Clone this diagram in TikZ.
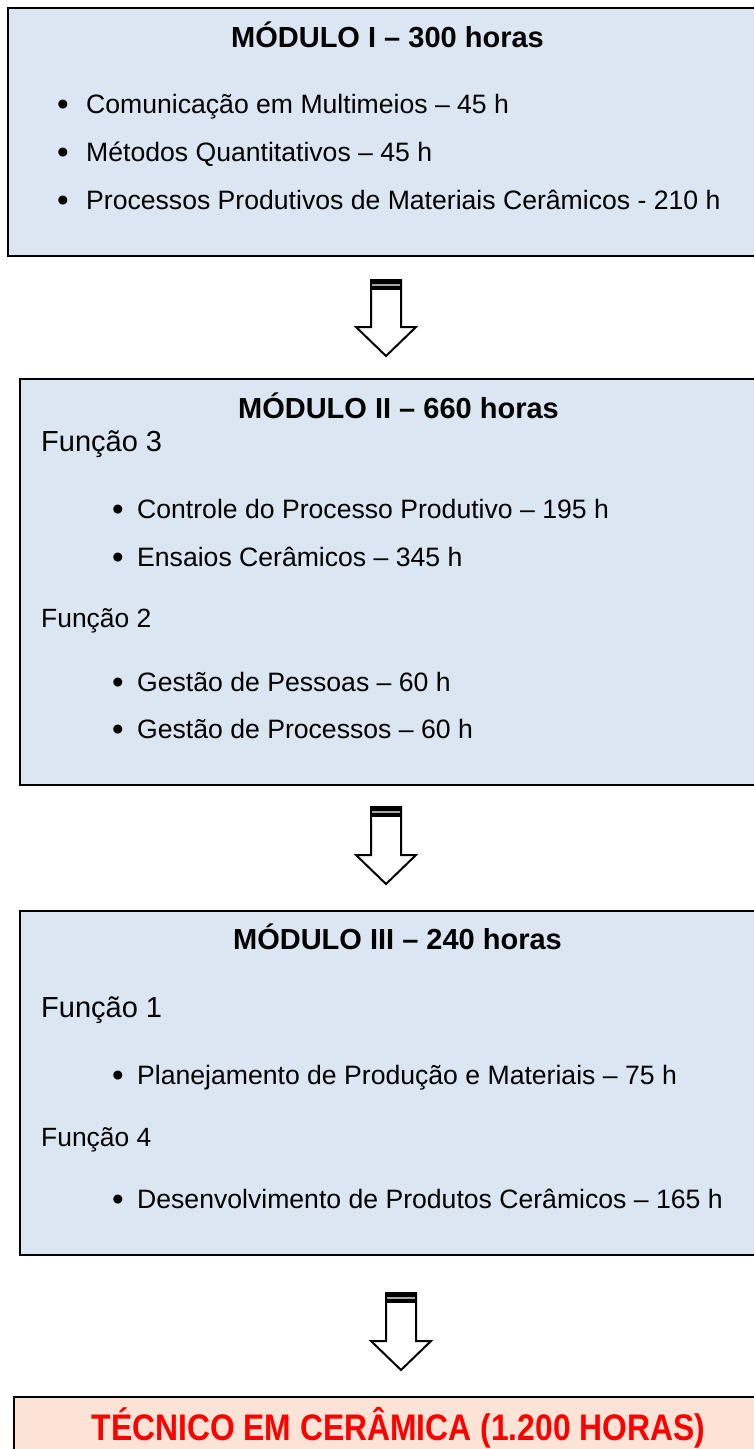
\documentclass[tikz,border=0pt]{standalone}
\usepackage{fontspec}
\setmainfont{Liberation Sans}
\definecolor{boxblue}{HTML}{DCE6F2}
\definecolor{boxpeach}{HTML}{FBE4D5}
\definecolor{redtext}{HTML}{FF0000}
\begin{document}
\begin{tikzpicture}[x=1pt,y=-1pt,
  box/.style={draw=black,line width=2pt,fill=boxblue},
  finalbox/.style={draw=black,line width=2pt,fill=boxpeach},
  titletext/.style={font=\fontsize{29}{34}\selectfont\bfseries,anchor=base,inner sep=0pt},
  itemtext/.style={font=\fontsize{26.6}{32}\selectfont,anchor=base west,inner sep=0pt},
  bigfunc/.style={font=\fontsize{29}{34}\selectfont,anchor=base west,inner sep=0pt},
  smallfunc/.style={font=\fontsize{26.4}{32}\selectfont,anchor=base west,inner sep=0pt},
  bul/.style={font=\fontsize{33}{36}\selectfont,anchor=base,inner sep=0pt},
  blockarrow/.style={draw=black,line width=2pt,fill=white,line join=miter},
  redtitle/.style={font=\fontsize{37}{42}\selectfont\bfseries,text=redtext,anchor=base,inner sep=0pt}
]
\useasboundingbox (0,0) rectangle (754,1449);
\begin{scope}
\clip (0,0) rectangle (754,1449);
% boxes
\draw[box] (8,8) rectangle (780,256);
\draw[box] (20,379) rectangle (780,785);
\draw[box] (20,911) rectangle (780,1255);
\draw[finalbox] (14,1397) rectangle (780,1470);

% block arrows
\newcommand{\blockarr}[3]{% #1 = centre x, #2 = top y, #3 = tip y
  \draw[blockarrow] (#1-15,#2) -- (#1+15,#2) -- (#1+15,#3-29) -- (#1+30,#3-29)
     -- (#1,#3) -- (#1-30,#3-29) -- (#1-15,#3-29) -- cycle;
  \fill[black] (#1-15,#2-1) rectangle (#1+15,#2+10);
  \draw[gray!70,line width=1.2pt] (#1-14,#2+5) -- (#1+14,#2+5);
}
\blockarr{386}{280}{356}
\blockarr{386}{807}{884}
\blockarr{401}{1293}{1370}
\end{scope}

% Module I
\node[titletext] (t1) at (387.5,47.5) {MÓDULO I – 300 horas};
\node[bul] (b11) at (63,115) {•};
\node[itemtext] (i11) at (86,113.5) {Comunicação em Multimeios – 45 h};
\node[bul] (b12) at (63,163) {•};
\node[itemtext] (i12) at (86,161.5) {Métodos Quantitativos – 45 h};
\node[bul] (b13) at (63,211) {•};
\node[itemtext] (i13) at (86,209.5) {Processos Produtivos de Materiais Cerâmicos - 210 h};

% Module II
\node[titletext] (t2) at (398.5,418) {MÓDULO II – 660 horas};
\node[bigfunc] (f3) at (41,451) {Função 3};
\node[bul] (b21) at (118,520) {•};
\node[itemtext] (i21) at (137,518.5) {Controle do Processo Produtivo – 195 h};
\node[bul] (b22) at (118,568) {•};
\node[itemtext] (i22) at (137,566.5) {Ensaios Cerâmicos – 345 h};
\node[smallfunc] (f2) at (41,627.5) {Função 2};
\node[bul] (b23) at (118,693) {•};
\node[itemtext] (i23) at (137,691.5) {Gestão de Pessoas – 60 h};
\node[bul] (b24) at (118,740) {•};
\node[itemtext] (i24) at (137,738.5) {Gestão de Processos – 60 h};

% Module III
\node[titletext] (t3) at (397.5,949) {MÓDULO III – 240 horas};
\node[bigfunc] (f1) at (41,1017) {Função 1};
\node[bul] (b31) at (118,1086) {•};
\node[itemtext] (i31) at (137,1084.5) {Planejamento de Produção e Materiais – 75 h};
\node[smallfunc] (f4) at (41,1146.5) {Função 4};
\node[bul] (b32) at (118,1210) {•};
\node[itemtext] (i32) at (137,1208.5) {Desenvolvimento de Produtos Cerâmicos – 165 h};

% Final
\node[redtitle] (fin) at (398.5,1440) {\scalebox{0.86}[1]{TÉCNICO EM CERÂMICA (1.200 HORAS)}};
\end{tikzpicture}
\end{document}
